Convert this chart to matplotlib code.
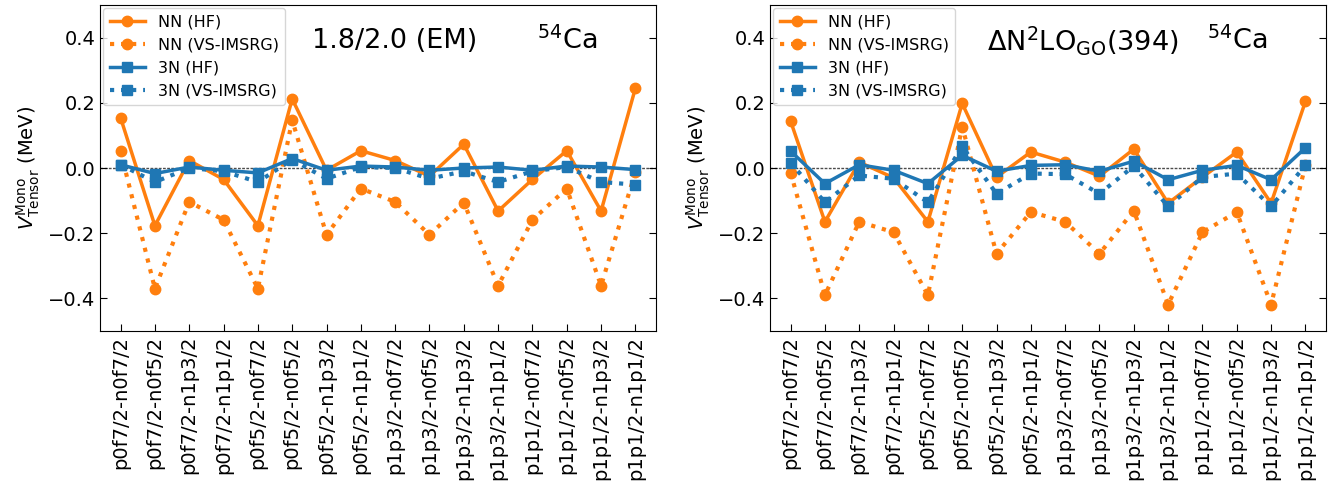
import numpy as np
import matplotlib.pyplot as plt

orbits = ['p0f7/2-n0f7/2', 'p0f7/2-n0f5/2', 'p0f7/2-n1p3/2', 'p0f7/2-n1p1/2',
          'p0f5/2-n0f7/2', 'p0f5/2-n0f5/2', 'p0f5/2-n1p3/2', 'p0f5/2-n1p1/2',
          'p1p3/2-n0f7/2', 'p1p3/2-n0f5/2', 'p1p3/2-n1p3/2', 'p1p3/2-n1p1/2',
          'p1p1/2-n0f7/2', 'p1p1/2-n0f5/2', 'p1p1/2-n1p3/2', 'p1p1/2-n1p1/2']

# 1.8/2.0 (EM)
em_nn_hf = [0.154, -0.177, 0.023, -0.035, -0.177, 0.212, -0.007, 0.053,
            0.023, -0.025, 0.073, -0.132, -0.035, 0.053, -0.132, 0.245]
em_nn_vs = [0.051, -0.370, -0.104, -0.159, -0.370, 0.147, -0.205, -0.063,
            -0.104, -0.205, -0.106, -0.361, -0.159, -0.063, -0.361, -0.012]
em_3n_hf = [0.010, -0.017, 0.003, -0.007, -0.015, 0.029, -0.007, 0.006,
            0.003, -0.007, 0.000, 0.003, -0.007, 0.006, 0.003, -0.005]
em_3n_vs = [0.010, -0.043, 0.000, -0.010, -0.043, 0.026, -0.033, 0.003,
            0.000, -0.033, -0.010, -0.043, -0.010, 0.003, -0.043, -0.051]

# DN2LO_GO(394)
go_nn_hf = [0.144, -0.165, 0.018, -0.030, -0.165, 0.198, -0.028, 0.049,
            0.018, -0.025, 0.058, -0.108, -0.028, 0.049, -0.108, 0.204]
go_nn_vs = [-0.014, -0.390, -0.165, -0.197, -0.390, 0.127, -0.263, -0.135,
            -0.165, -0.263, -0.131, -0.419, -0.197, -0.135, -0.419, 0.008]
go_3n_hf = [0.052, -0.048, 0.010, -0.007, -0.048, 0.039, -0.010, 0.008,
            0.010, -0.010, 0.021, -0.036, -0.007, 0.008, -0.036, 0.062]
go_3n_vs = [0.016, -0.105, -0.023, -0.033, -0.105, 0.066, -0.079, -0.017,
            -0.019, -0.079, 0.006, -0.118, -0.028, -0.017, -0.118, 0.008]

panels = [
    (r'1.8/2.0 (EM)', 0.53, em_nn_hf, em_nn_vs, em_3n_hf, em_3n_vs),
    (r'$\Delta$N$^2$LO$_{\rm GO}$(394)', 0.563, go_nn_hf, go_nn_vs, go_3n_hf, go_3n_vs),
]

fig = plt.figure(figsize=(13.38, 4.99), dpi=100)
lefts = [100 / 1338, 770 / 1338]
x = np.arange(len(orbits))

for (title, tx, nn_hf, nn_vs, tn_hf, tn_vs), left in zip(panels, lefts):
    ax = fig.add_axes([left, 168 / 499, 556 / 1338, 326 / 499])
    ax.axhline(0, color='k', ls=(0, (2, 1)), lw=1, alpha=0.7, zorder=1)
    ax.plot(x, nn_hf, '-o', color='tab:orange', lw=2.5, ms=7.5, label='NN (HF)')
    ax.plot(x, nn_vs, ':o', color='tab:orange', lw=3, ms=7.5, label='NN (VS-IMSRG)')
    ax.plot(x, tn_hf, '-s', color='tab:blue', lw=2.5, ms=7.5, label='3N (HF)')
    ax.plot(x, tn_vs, ':s', color='tab:blue', lw=3, ms=7.5, label='3N (VS-IMSRG)')
    ax.set_ylim(-0.5, 0.5)
    ax.set_xlim(-0.6, len(orbits) - 0.4)
    ax.set_yticks([-0.4, -0.2, 0.0, 0.2, 0.4])
    ax.set_xticks(x)
    ax.set_xticklabels(orbits, rotation=90, fontsize=14)
    ax.tick_params(axis='y', labelsize=14, direction='in', right=True, length=5)
    ax.tick_params(axis='x', direction='in', length=5)
    ax.set_ylabel(r'$V^{\rm Mono}_{\rm Tensor}$ (MeV)', fontsize=14)
    ax.text(tx, 0.89, title, transform=ax.transAxes, fontsize=19.5,
            ha='center', va='center')
    ax.text(0.84, 0.89, r'$^{54}$Ca', transform=ax.transAxes, fontsize=19.5,
            ha='center', va='center')
    ax.legend(loc='upper left', fontsize=11.5, handlelength=2.2,
              borderaxespad=0.2, labelspacing=0.5)

fig.savefig('out.png', dpi=100)
